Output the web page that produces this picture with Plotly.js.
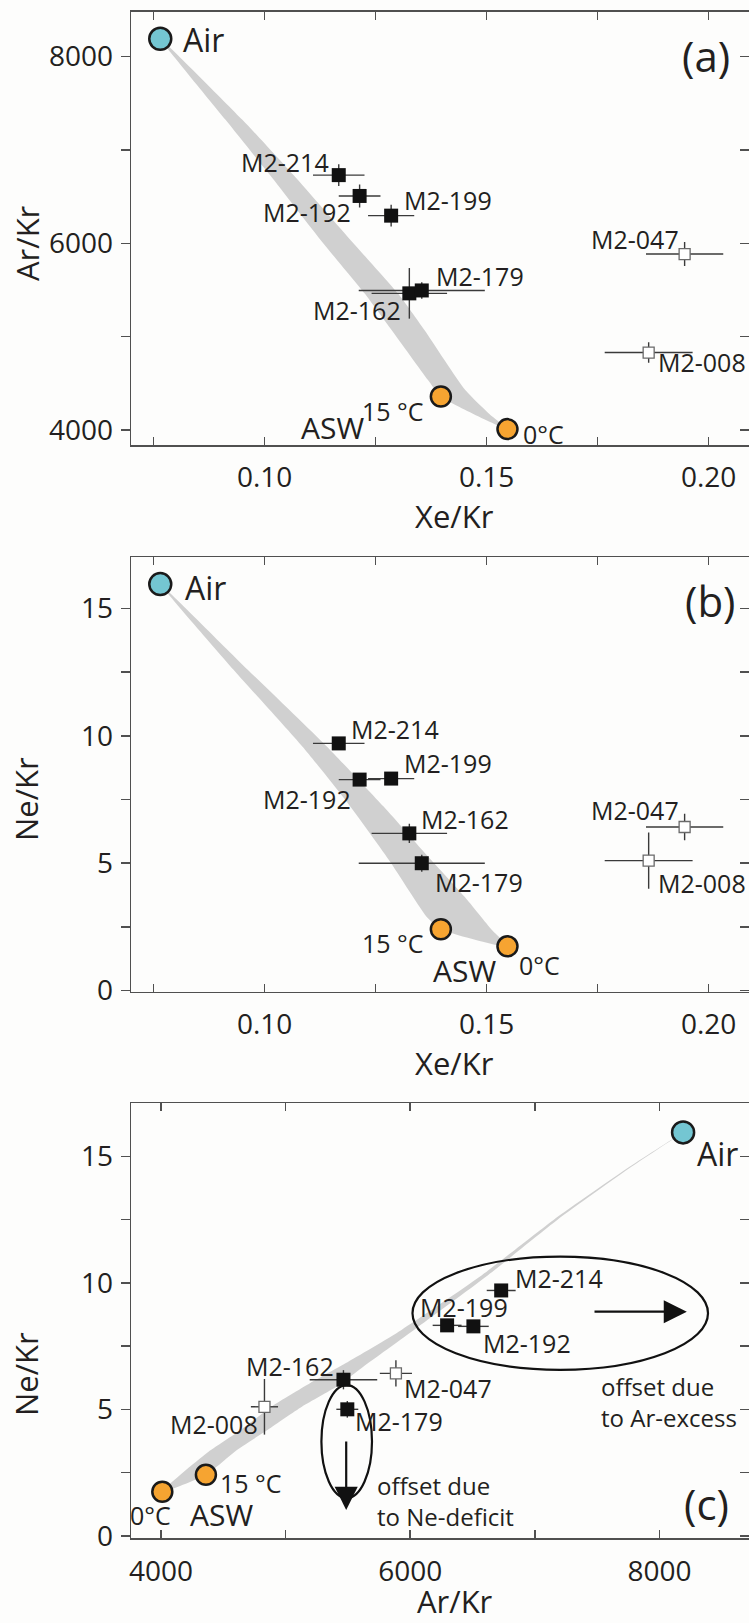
<!DOCTYPE html>
<html><head><meta charset="utf-8">
<script src="https://cdn.plot.ly/plotly-3.0.1.min.js"></script>
<style>html,body{margin:0;padding:0;background:#fff;overflow:hidden}</style>
</head><body><div id="chart" style="width:749px;height:1623px"></div>
<script>
// ---------------- data ----------------
const sampleNames   = ['M2-214','M2-192','M2-199','M2-162','M2-179','M2-047','M2-008'];
const sampleGroup   = ['filled','filled','filled','filled','filled','open','open'];
const sampleXeKr    = [0.1167, 0.1214, 0.1285, 0.1326, 0.1354, 0.1946, 0.1865];
const sampleXeKrErr = [0.0058, 0.0047, 0.0052, 0.0085, 0.0142, 0.0087, 0.0099];
const sampleArKr    = [6730, 6507, 6296, 5464, 5495, 5885, 4830];
const sampleArKrErr = [116, 123, 116, 271, 88, 129, 109];
const sampleNeKr    = [9.70, 8.28, 8.32, 6.17, 5.00, 6.42, 5.10];
const sampleNeKrErr = [0.20, 0.18, 0.18, 0.38, 0.33, 0.52, 1.10];

const airLabel = 'Air';
const airXeKr = [0.0765];
const airArKr = [8190];
const airNeKr = [15.95];

const aswName   = 'ASW';
const aswLabels = ['15 °C', '0°C'];
const aswXeKr   = [0.1397, 0.1547];
const aswArKr   = [4360, 4010];
const aswNeKr   = [2.41, 1.74];

// air–ASW mixing band outlines
const bandA_XeKr = [0.0765,0.0912,0.1012,0.1132,0.1225,0.1286,0.1368,0.1397,0.1547,0.1505,0.1452,0.1360,0.1300,0.1200,0.1065,0.0950,0.0765];
const bandA_ArKr = [8190,7322,6730,6000,5464,5071,4535,4360,4010,4178,4428,5071,5464,6000,6730,7322,8190];
const bandB_XeKr = [0.0765,0.0930,0.1085,0.1182,0.1280,0.1368,0.1397,0.1547,0.1512,0.1450,0.1368,0.1268,0.1140,0.0962,0.0765];
const bandB_NeKr = [15.95,12.59,9.58,7.48,5.13,2.84,2.41,1.74,2.38,3.69,5.26,7.22,9.58,12.59,15.95];
const bandC_ArKr = [4010,4365,4642,4888,5195,5480,5930,6560,7150,7760,8190,7775,7180,6610,6030,5660,5410,5133,4857,4612,4360,4010];
const bandC_NeKr = [1.74,3.26,4.19,5.11,6.03,6.82,8.14,10.25,12.49,14.59,15.95,14.59,12.49,10.25,8.14,6.82,5.90,5.11,4.19,3.40,2.41,1.74];

// panel (c) interpretive annotations
const arExcessEllipseArKr = [6018, 8390];
const arExcessEllipseNeKr = [6.56, 11.04];
const arExcessArrowArKr   = [7467, 8220];
const arExcessArrowNeKr   = [8.86, 8.86];
const neDeficitEllipseArKr = [5287, 5693];
const neDeficitEllipseNeKr = [1.49, 5.96];
const neDeficitArrowArKr   = [5486, 5486];
const neDeficitArrowNeKr   = [3.79, 1.02];
const arExcessText  = 'offset due<br>to Ar-excess';
const neDeficitText = 'offset due<br>to Ne-deficit';
const arExcessTextPos  = [7514, 5.27];
const neDeficitTextPos = [5718, 1.39];

const panelTags = ['(a)', '(b)', '(c)'];

// ---------------- styles ----------------
const FONT = 'Open Sans, Noto Sans, sans-serif';
const TXT = '#231f20';
const AXC = '#505050';
const ERRC = '#3a3a3a';
const BANDC = '#d0d0d0';
const AIRC = '#74c6d2';
const ASWC = '#f6a431';

const filledIdx = sampleGroup.map((g,i)=>g==='filled'?i:-1).filter(i=>i>=0);
const openIdx   = sampleGroup.map((g,i)=>g==='open'?i:-1).filter(i=>i>=0);
const pick = (arr, idx) => idx.map(i => arr[i]);

function panelTraces(xa, ya, X, Xe, Y, Ye, bandX, bandY, aX, aY, wX, wY) {
  const t = [];
  t.push({type:'scatter', mode:'lines', x:bandX, y:bandY, fill:'toself', fillcolor:BANDC,
          line:{width:0, color:BANDC, shape:'spline', smoothing:0.6}, xaxis:xa, yaxis:ya, hoverinfo:'skip', showlegend:false});
  const eb = (arr, idx) => ({type:'data', array:pick(arr, idx), visible:true, color:ERRC, thickness:1.4, width:0});
  t.push({type:'scatter', mode:'markers', x:pick(X,openIdx), y:pick(Y,openIdx),
          error_x:eb(Xe,openIdx), error_y:eb(Ye,openIdx),
          marker:{symbol:'square', size:11, color:'#ffffff', line:{color:'#6a6a6a', width:1.3}},
          xaxis:xa, yaxis:ya, showlegend:false, cliponaxis:false});
  t.push({type:'scatter', mode:'markers', x:pick(X,filledIdx), y:pick(Y,filledIdx),
          error_x:eb(Xe,filledIdx), error_y:eb(Ye,filledIdx),
          marker:{symbol:'square', size:14, color:'#111111', line:{width:0}},
          xaxis:xa, yaxis:ya, showlegend:false, cliponaxis:false});
  t.push({type:'scatter', mode:'markers', x:wX, y:wY,
          marker:{symbol:'circle', size:20, color:ASWC, line:{color:'#1a1a1a', width:2.5}},
          xaxis:xa, yaxis:ya, showlegend:false, cliponaxis:false});
  t.push({type:'scatter', mode:'markers', x:aX, y:aY,
          marker:{symbol:'circle', size:22, color:AIRC, line:{color:'#1a1a1a', width:2.5}},
          xaxis:xa, yaxis:ya, showlegend:false, cliponaxis:false});
  return t;
}

const traces = [].concat(
  panelTraces('x','y',  sampleXeKr,sampleXeKrErr, sampleArKr,sampleArKrErr, bandA_XeKr,bandA_ArKr, airXeKr,airArKr, aswXeKr,aswArKr),
  panelTraces('x2','y2',sampleXeKr,sampleXeKrErr, sampleNeKr,sampleNeKrErr, bandB_XeKr,bandB_NeKr, airXeKr,airNeKr, aswXeKr,aswNeKr),
  panelTraces('x3','y3',sampleArKr,sampleArKrErr, sampleNeKr,sampleNeKrErr, bandC_ArKr,bandC_NeKr, airArKr,airNeKr, aswArKr,aswNeKr),
  [{type:'scatter', x:[], y:[], xaxis:'x',  yaxis:'y4', showlegend:false},
   {type:'scatter', x:[], y:[], xaxis:'x2', yaxis:'y5', showlegend:false},
   {type:'scatter', x:[], y:[], xaxis:'x3', yaxis:'y6', showlegend:false}]
);

// label placement (pixel offsets from each point) per panel
const sampleLabelStyle = {
  a: [['right',-8.6,13.3],['right',-8,-15.7],['left',12,15.7],['right',-7.7,-16.7],['left',13.4,14.7],['right',-4.8,14.7],['left',8,-9.4]],
  b: [['left',11,14],['right',-8,-19.3],['left',12,16],['left',11,14.4],['left',12,-19],['right',-4.8,16.6],['left',8,-22.3]],
  c: [['left',13,12],['left',9,-17],['center',17,18.3],['right',-8.5,13.5],['left',6.5,-11.7],['left',7.5,-14.5],['right',-5,-17]]
};
const endLabelStyle = {
  a: {air:['left',22,-1], asw:[['right',-15.7,-14.6],['left',15,-4.4]], aswName:[0,'center',-108,-30.8]},
  b: {air:['left',23.4,-3], asw:[['right',-15.5,-13.4],['left',10.5,-18.3]], aswName:[1,'center',-43,-24]},
  c: {air:['left',12.5,-21], asw:[['left',13,-8],['center',-11.4,-23.3]], aswName:[0,'center',15.6,-40]}
};

const annotations = [];
function lab(xr, yr, x, y, text, st, size) {
  annotations.push({xref:xr, yref:yr, x:x, y:y, text:text, showarrow:false,
    xanchor:st[0], yanchor:'middle', xshift:st[1], yshift:st[2], borderpad:0,
    font:{family:FONT, size:size||25, color:TXT}});
}
function panelLabels(key, xr, yr, X, Y, aX, aY, wX, wY) {
  sampleNames.forEach((n,i)=>lab(xr,yr,X[i],Y[i],n,sampleLabelStyle[key][i]));
  const e = endLabelStyle[key];
  lab(xr,yr,aX[0],aY[0],airLabel,e.air,32);
  aswLabels.forEach((t,i)=>lab(xr,yr,wX[i],wY[i],t,e.asw[i],25));
  const k = e.aswName[0];
  lab(xr,yr,wX[k],wY[k],aswName,e.aswName.slice(1),30);
}
panelLabels('a','x','y',  sampleXeKr,sampleArKr, airXeKr,airArKr, aswXeKr,aswArKr);
panelLabels('b','x2','y2',sampleXeKr,sampleNeKr, airXeKr,airNeKr, aswXeKr,aswNeKr);
panelLabels('c','x3','y3',sampleArKr,sampleNeKr, airArKr,airNeKr, aswArKr,aswNeKr);

// panel tags
const tagPos = [[706/749, 1-55/1623],[710/749, 1-600/1623],[706/749, 1-1503/1623]];
panelTags.forEach((t,i)=>annotations.push({xref:'paper', yref:'paper', x:tagPos[i][0], y:tagPos[i][1],
  text:t, showarrow:false, xanchor:'center', yanchor:'middle', font:{family:FONT, size:42, color:TXT}}));

// axis titles
const axisTitles = [
  ['Xe/Kr', 455/749, 1-515.7/1623, 0, 'middle'],
  ['Ar/Kr', 27.5/749, 1-243.5/1623, -90, 'middle'],
  ['Xe/Kr', 455/749, 1-1063/1623, 0, 'middle'],
  ['Ne/Kr', 26/749, 1-799/1623, -90, 'middle'],
  ['Ar/Kr', 455/749, 0, 0, 'bottom'],
  ['Ne/Kr', 26/749, 1-1374/1623, -90, 'middle']
];
axisTitles.forEach(a=>annotations.push({xref:'paper', yref:'paper', x:a[1], y:a[2], text:a[0], textangle:a[3],
  showarrow:false, xanchor:'center', yanchor:a[4], borderpad:0, font:{family:FONT, size:31, color:TXT}}));

// panel (c) arrows + notes
annotations.push({xref:'x3', yref:'y3', axref:'x3', ayref:'y3', x:arExcessArrowArKr[1], y:arExcessArrowNeKr[1],
  ax:arExcessArrowArKr[0], ay:arExcessArrowNeKr[0], text:'', showarrow:true, arrowhead:2, arrowsize:2.1, arrowwidth:2.2, arrowcolor:'#111'});
annotations.push({xref:'x3', yref:'y3', axref:'x3', ayref:'y3', x:neDeficitArrowArKr[1], y:neDeficitArrowNeKr[1],
  ax:neDeficitArrowArKr[0], ay:neDeficitArrowNeKr[0], text:'', showarrow:true, arrowhead:2, arrowsize:2.1, arrowwidth:2.2, arrowcolor:'#111'});
annotations.push({xref:'x3', yref:'y3', x:arExcessTextPos[0], y:arExcessTextPos[1], text:arExcessText, align:'left',
  showarrow:false, xanchor:'left', yanchor:'middle', font:{family:FONT, size:24, color:TXT}});
annotations.push({xref:'x3', yref:'y3', x:neDeficitTextPos[0], y:neDeficitTextPos[1], text:neDeficitText, align:'left',
  showarrow:false, xanchor:'left', yanchor:'middle', font:{family:FONT, size:24, color:TXT}});

const shapes = [
  {type:'circle', xref:'x3', yref:'y3', x0:arExcessEllipseArKr[0], x1:arExcessEllipseArKr[1],
   y0:arExcessEllipseNeKr[0], y1:arExcessEllipseNeKr[1], line:{color:'#111', width:2.2}},
  {type:'circle', xref:'x3', yref:'y3', x0:neDeficitEllipseArKr[0], x1:neDeficitEllipseArKr[1],
   y0:neDeficitEllipseNeKr[0], y1:neDeficitEllipseNeKr[1], line:{color:'#111', width:2.2}}
];

// ---------------- axes ----------------
const XD = [131.4/749, 1];
const dom = {a:[1-445/1623, 1-11.7/1623], b:[1-991.7/1623, 1-557.3/1623], c:[1-1538.3/1623, 1-1103.3/1623]};
const tickFont = {family:FONT, size:28, color:TXT};
function xAx(anchor, domain, range, dtick, mdtick, fmt) {
  return {domain:domain, range:range, anchor:anchor, ticks:'inside', ticklen:8, tickwidth:1.5, tickcolor:AXC,
    showline:true, linecolor:AXC, linewidth:1.7, mirror:'ticks', dtick:dtick, tick0:0, tickformat:fmt,
    minor:{dtick:mdtick, tick0:0, ticks:'inside', ticklen:8, tickwidth:1.5, tickcolor:AXC, showgrid:false},
    showgrid:false, zeroline:false, tickfont:tickFont, ticklabelstandoff:7, fixedrange:true};
}
function yAx(anchor, domain, range, dtick, mdtick) {
  return {domain:domain, range:range, anchor:anchor, ticks:'outside', ticklen:9, tickwidth:1.5, tickcolor:AXC,
    showline:true, linecolor:AXC, linewidth:1.7, mirror:false, dtick:dtick, tick0:0, tickformat:'d',
    minor:{dtick:mdtick, tick0:0, ticks:'outside', ticklen:9, tickwidth:1.5, tickcolor:AXC, showgrid:false},
    showgrid:false, zeroline:false, tickfont:tickFont, ticklabelstandoff:2, fixedrange:true};
}
function yRight(over, anchor, dtick) {
  return {overlaying:over, matches:over, side:'right', anchor:anchor, ticks:'inside', ticklen:9, tickwidth:1.5,
    tickcolor:AXC, showticklabels:false, showline:false, showgrid:false, zeroline:false, dtick:dtick, tick0:0, fixedrange:true};
}

const layout = {
  width:749, height:1623, margin:{l:0, r:0, t:0, b:0},
  paper_bgcolor:'#fdfdfc', plot_bgcolor:'#fdfdfc', showlegend:false,
  font:{family:FONT, color:TXT},
  xaxis:  xAx('y',  XD, [0.0700, 0.2091], 0.05, 0.025, '.2f'),
  yaxis:  yAx('x',  dom.a, [3840, 8480], 2000, 1000),
  xaxis2: xAx('y2', XD, [0.0700, 0.2091], 0.05, 0.025, '.2f'),
  yaxis2: yAx('x2', dom.b, [-0.04, 17.0], 5, 2.5),
  xaxis3: xAx('y3', XD, [3762, 8719], 2000, 1000, 'd'),
  yaxis3: yAx('x3', dom.c, [-0.1, 17.1], 5, 2.5),
  yaxis4: yRight('y',  'x',  1000),
  yaxis5: yRight('y2', 'x2', 2.5),
  yaxis6: yRight('y3', 'x3', 2.5),
  annotations: annotations,
  shapes: shapes
};

Plotly.newPlot('chart', traces, layout, {staticPlot:true, displayModeBar:false});
</script></body></html>
